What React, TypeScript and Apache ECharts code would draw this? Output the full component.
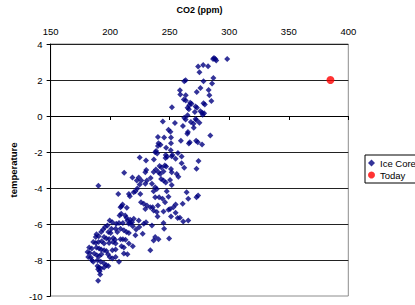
import React, { useEffect, useRef } from "react";
import * as echarts from "echarts";

// Ice core CO2 (ppm) vs temperature anomaly
const iceCoreCO2: number[] = [
  287.2, 288.3, 289.1, 286.4, 298.3, 273.9, 278.1, 282.2, 275.0, 286.7,
  262.2, 263.4, 278.4, 285.6, 275.8, 272.7, 258.6, 282.7, 258.9, 263.5,
  283.3, 261.9, 263.5, 285.0, 267.2, 268.3, 266.4, 278.4, 279.5, 251.9,
  271.7, 272.9, 265.0, 266.1, 275.8, 277.2, 278.9, 277.7, 271.1, 265.0,
  262.2, 263.4, 271.7, 272.5, 254.4, 244.2, 267.8, 270.0, 275.0, 261.1,
  249.0, 250.6, 265.3, 264.8, 251.1, 245.3, 240.1, 284.1, 259.4, 266.9,
  266.1, 272.2, 273.6, 277.2, 240.6, 242.3, 240.1, 251.1, 247.0, 238.6,
  237.8, 239.5, 250.9, 256.9, 246.7, 247.8, 246.5, 252.3, 251.7, 260.0,
  255.0, 224.8, 230.1, 236.7, 274.2, 260.0, 241.5, 243.1, 245.9, 247.0,
  262.2, 251.1, 272.5, 230.3, 238.4, 270.2, 211.8, 190.1, 218.7, 224.0,
  224.8, 222.8, 221.2, 219.8, 215.7, 216.5, 225.3, 210.4, 209.5, 208.7,
  214.0, 225.9, 207.9, 209.3, 212.6, 213.7, 214.5, 216.8, 218.4, 219.8,
  199.6, 201.8, 205.1, 207.4, 210.7, 215.7, 217.0, 224.0, 195.7, 197.7,
  201.0, 204.6, 208.7, 211.5, 219.0, 224.5, 192.4, 194.1, 198.5, 200.4,
  206.0, 213.7, 215.7, 221.8, 187.9, 190.4, 188.5, 194.9, 196.8, 199.1,
  202.6, 204.1, 208.7, 210.7, 212.9, 221.2, 185.8, 187.9, 190.2, 192.9,
  194.9, 199.1, 202.4, 204.6, 209.5, 211.5, 215.7, 219.0, 182.4, 184.6,
  188.5, 190.7, 192.4, 194.9, 196.8, 201.8, 204.6, 211.5, 214.5, 181.0,
  182.9, 186.6, 188.8, 190.7, 192.7, 198.2, 199.6, 201.8, 204.6, 207.4,
  181.6, 183.8, 184.6, 185.8, 189.3, 192.1, 194.9, 196.8, 198.5, 189.3,
  190.7, 192.1, 194.9, 189.9, 191.2, 191.6, 189.9, 229.5, 236.5, 234.0,
  230.9, 229.5, 235.1, 228.2, 230.9, 233.7, 229.5, 236.5, 228.2, 230.1,
  235.1, 227.3, 233.7, 236.5, 222.4, 226.2, 206.8, 240.6, 242.0, 244.8,
  251.7, 255.9, 257.3, 242.8, 244.8, 246.7, 250.3, 251.7, 237.8, 239.2,
  236.5, 247.5, 237.8, 241.1, 244.0, 246.1, 249.0, 264.2, 265.6, 273.9,
  272.5, 235.7, 240.1, 255.0, 260.9, 253.1, 250.3, 249.0, 239.2, 244.8,
  255.0, 239.8, 251.1, 256.7, 258.6, 261.4, 265.6, 244.8, 245.3, 237.8,
  240.6, 249.5,
];

const iceCoreTemp: number[] = [
  3.22, 3.16, 3.09, 3.16, 3.16, 2.75, 2.83, 2.77, 2.43, 2.11,
  1.93, 1.99, 1.93, 1.80, 1.55, 1.34, 1.43, 1.45, 1.19, 1.15,
  1.15, 0.92, 0.86, 0.84, 0.73, 0.68, 0.60, 0.71, 0.64, 0.48,
  0.53, 0.46, 0.46, 0.38, 0.27, 0.18, 0.15, 0.07, 0.22, 0.04,
  -0.10, -0.19, -0.17, -0.22, -0.39, -0.30, -0.34, -0.43, -0.37, -0.56,
  -0.76, -0.87, -0.89, -0.98, -1.20, -1.20, -1.16, -1.09, -1.38, -1.46,
  -1.53, -1.38, -1.46, -1.59, -1.51, -1.60, -1.66, -1.51, -1.77, -1.94,
  -2.01, -2.09, -1.90, -2.06, -2.16, -2.27, -2.34, -2.16, -2.23, -2.25,
  -2.38, -2.31, -2.47, -2.42, -2.50, -2.62, -2.78, -2.86, -2.75, -2.80,
  -2.87, -2.95, -2.93, -3.00, -2.97, -0.65, -3.15, -3.87, -3.41, -3.41,
  -3.81, -4.03, -4.18, -4.24, -4.33, -4.46, -4.33, -4.92, -5.01, -5.07,
  -5.10, -4.79, -5.53, -5.43, -5.53, -5.65, -5.80, -5.76, -5.90, -5.71,
  -5.80, -5.90, -5.98, -5.95, -5.95, -5.98, -5.95, -5.80, -6.17, -6.09,
  -6.26, -6.26, -6.26, -6.35, -6.13, -6.17, -6.45, -6.31, -6.45, -6.50,
  -6.45, -6.45, -6.50, -6.31, -6.72, -6.68, -6.57, -6.72, -6.81, -6.83,
  -6.78, -6.87, -6.85, -6.85, -6.87, -6.63, -7.00, -7.06, -7.00, -6.96,
  -7.09, -7.06, -7.00, -7.09, -7.24, -7.31, -7.09, -7.24, -7.31, -7.36,
  -7.31, -7.36, -7.42, -7.46, -7.50, -7.46, -7.42, -7.64, -7.68, -7.55,
  -7.61, -7.64, -7.73, -7.79, -7.68, -7.68, -7.83, -7.92, -7.83, -8.10,
  -7.83, -7.86, -8.01, -8.10, -8.01, -8.10, -8.19, -8.29, -8.34, -8.34,
  -8.41, -8.47, -8.41, -8.52, -8.62, -8.80, -9.15, -3.13, -3.11, -3.44,
  -3.59, -3.77, -3.77, -4.88, -4.97, -5.07, -5.16, -5.25, -5.98, -5.90,
  -6.08, -6.54, -7.46, -6.91, -3.59, -3.59, -4.33, -3.13, -3.22, -3.08,
  -3.13, -3.22, -3.37, -3.50, -3.59, -3.69, -3.55, -3.83, -3.96, -4.05,
  -4.18, -4.18, -4.51, -4.51, -4.60, -4.79, -4.48, -4.24, -4.60, -4.42,
  -4.51, -5.07, -4.97, -4.92, -4.88, -5.07, -5.16, -5.21, -5.34, -5.30,
  -5.38, -5.58, -5.58, -5.67, -5.65, -5.86, -5.80, -5.95, -6.26, -6.72,
  -6.85, -6.81,
];

const todayCO2: number[] = [385];
const todayTemp: number[] = [2];

const seriesNames: string[] = ["Ice Core", "Today"];
const xTitle = "CO2 (ppm)";
const yTitle = "temperature";
const xMin = 150;
const xMax = 400;
const xStep = 50;
const yMin = -10;
const yMax = 4;
const yStep = 2;

const FONT = "'Liberation Sans', Arial, sans-serif";

export default function App() {
  const ref = useRef<HTMLDivElement>(null);

  useEffect(() => {
    if (!ref.current) return;
    const chart = echarts.init(ref.current, undefined, { renderer: "svg" });
    const iceData = iceCoreCO2.map((x, i) => [x, iceCoreTemp[i]]);
    const todayData = todayCO2.map((x, i) => [x, todayTemp[i]]);
    chart.setOption({
      animation: false,
      backgroundColor: "#ffffff",
      textStyle: { fontFamily: FONT },
      grid: {
        left: 47.7,
        right: 66.7,
        top: 42.5,
        bottom: 9,
        show: true,
        borderColor: "#8c8c8c",
        borderWidth: 1,
        backgroundColor: "transparent",
      },
      legend: {
        orient: "vertical",
        left: 365,
        top: 155,
        padding: [3, 8, 3, 3],
        itemGap: 2,
        itemWidth: 7,
        itemHeight: 7,
        itemTextGap: 1,
        borderColor: "#000000",
        borderWidth: 1,
        backgroundColor: "#ffffff",
        textStyle: { fontFamily: FONT, fontSize: 9.5, color: "#000" },
        data: [
          { name: seriesNames[0], icon: "diamond" },
          { name: seriesNames[1], icon: "circle" },
        ],
      },
      xAxis: {
        type: "value",
        position: "top",
        min: xMin,
        max: xMax,
        interval: xStep,
        name: xTitle,
        nameLocation: "middle",
        nameGap: 30,
        nameTextStyle: { fontFamily: FONT, fontSize: 9, fontWeight: "bold", color: "#000" },
        axisLine: { show: true, lineStyle: { color: "#000", width: 1 } },
        axisTick: { show: true, inside: true, length: 4, lineStyle: { color: "#000" } },
        axisLabel: { fontFamily: FONT, fontSize: 9.5, color: "#000", margin: 8 },
        splitLine: { show: false },
      },
      yAxis: {
        type: "value",
        min: yMin,
        max: yMax,
        interval: yStep,
        name: yTitle,
        nameLocation: "middle",
        nameRotate: 90,
        nameGap: 30,
        nameTextStyle: { fontFamily: FONT, fontSize: 9.5, fontWeight: "bold", color: "#000" },
        axisLine: { show: true, lineStyle: { color: "#000", width: 1 } },
        axisTick: { show: true, inside: false, length: 4, lineStyle: { color: "#000" } },
        axisLabel: { fontFamily: FONT, fontSize: 9.5, color: "#000", margin: 8 },
        splitLine: { show: true, showMinLine: false, lineStyle: { color: "#222", width: 1 } },
      },
      series: [
        {
          name: seriesNames[0],
          type: "scatter",
          symbol: "diamond",
          symbolSize: 6,
          itemStyle: { color: "#000080" },
          data: iceData,
        },
        {
          name: seriesNames[1],
          type: "scatter",
          symbol: "circle",
          symbolSize: 8,
          itemStyle: { color: "#ff0000" },
          data: todayData,
        },
      ],
    });
    return () => chart.dispose();
  }, []);

  return (
    <div
      ref={ref}
      style={{ position: "fixed", left: 0, top: 0, width: 415, height: 305 }}
    />
  );
}
